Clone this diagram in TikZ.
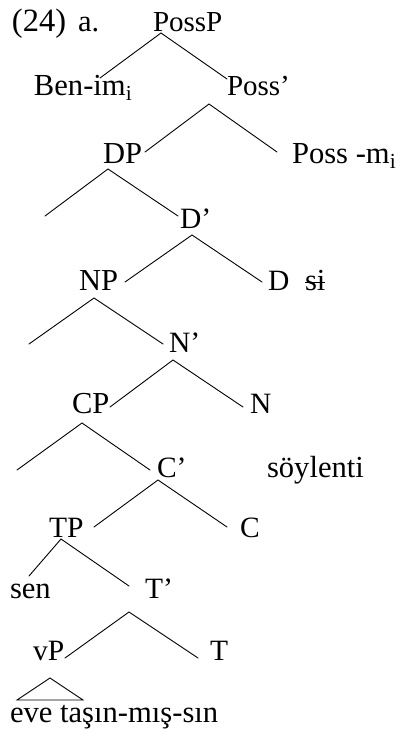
\documentclass[tikz,border=0pt]{standalone}
\usepackage{fontspec}
\setmainfont{Liberation Serif}
\begin{document}
\begin{tikzpicture}[x=1pt,y=-1pt,
  lab/.style={anchor=base west,inner sep=0pt,outer sep=0pt,font=\fontsize{29.5}{33}\selectfont},
  word/.style={lab,font=\fontsize{30.6}{35}\selectfont},
  br/.style={line width=0.9pt,line cap=round}]
\useasboundingbox (0,0) rectangle (399,734);
% labels
\node[lab,font=\fontsize{32.5}{36}\selectfont] (num) at (12,31) {(24)};
\node[word] (ex) at (78,31) {a.};
\node[lab,font=\fontsize{29}{33}\selectfont] (possp) at (153,31) {PossP};
\node[word] (benim) at (34,95) {Ben-im\textsubscript{i}};
\node[lab,font=\fontsize{29}{33}\selectfont] (possbar) at (227,95) {Poss’};
\node[lab,font=\fontsize{30.5}{35}\selectfont] (dp) at (103,163) {DP};
\node[word] (possm) at (292,163) {Poss -m\textsubscript{i}};
\node[lab] (dbar) at (180,228) {D’};
\node[lab,font=\fontsize{30.5}{35}\selectfont] (np) at (79,290) {NP};
\node[lab] (d) at (268,290) {D};
\node[word] (si) at (305,290) {si};
\node[lab] (nbar) at (169,352) {N’};
\node[lab,font=\fontsize{30.5}{35}\selectfont] (cp) at (72,413) {CP};
\node[lab] (n) at (250,413) {N};
\node[lab] (cbar) at (157,477) {C’};
\node[word] (soylenti) at (267,477) {söylenti};
\node[lab] (tp) at (49,537) {TP};
\node[lab] (c) at (240,537) {C};
\node[word] (sen) at (10,598) {sen};
\node[lab] (tbar) at (145,598) {T’};
\node[lab] (vp) at (33,660) {vP};
\node[lab] (t) at (210,660) {T};
\node[word] (eve) at (10,722) {eve taşın-mış-sın};
% free ends
\coordinate (dpL) at (45,216);
\coordinate (npL) at (29,344);
\coordinate (cpL) at (17,470);
% branches
\draw[br] ([shift={(66,-17)}]benim.base west) -- ([shift={(8,2)}]possp.base west) -- ([shift={(0,-16)}]possbar.base west);
\draw[br] ([shift={(42,-11)}]dp.base west) -- ([shift={(-18,9)}]possbar.base west) -- ([shift={(-15,-11)}]possm.base west);
\draw[br] (dpL) -- ([shift={(5,6)}]dp.base west) -- ([shift={(-2,-12)}]dbar.base west);
\draw[br] ([shift={(46,-8)}]np.base west) -- ([shift={(12,7)}]dbar.base west) -- ([shift={(-6,-8)}]d.base west);
\draw[br] (npL) -- ([shift={(15,8)}]np.base west) -- ([shift={(-6,-8)}]nbar.base west);
\draw[br] ([shift={(38,-6)}]cp.base west) -- ([shift={(4,8)}]nbar.base west) -- ([shift={(-7,-6)}]n.base west);
\draw[br] (cpL) -- ([shift={(10,10)}]cp.base west) -- ([shift={(-7,-7)}]cbar.base west);
\draw[br] ([shift={(45,-10)}]tp.base west) -- ([shift={(1,3)}]cbar.base west) -- ([shift={(-13,-10)}]c.base west);
\draw[br] ([shift={(19,-22)}]sen.base west) -- ([shift={(12,2)}]tp.base west) -- ([shift={(-16,-12)}]tbar.base west);
\draw[br] ([shift={(32,-2)}]vp.base west) -- ([shift={(-16,14)}]tbar.base west) -- ([shift={(-12,-2)}]t.base west);
\draw[br] ([shift={(17,18)}]vp.base west) -- ([shift={(7,-22)}]eve.base west) -- ([shift={(73,-22)}]eve.base west) -- cycle;
% strike-through
\draw[line width=0.9pt] ([shift={(0,-8)}]si.base west) -- ([shift={(0,-8)}]si.base east);
\end{tikzpicture}
\end{document}
